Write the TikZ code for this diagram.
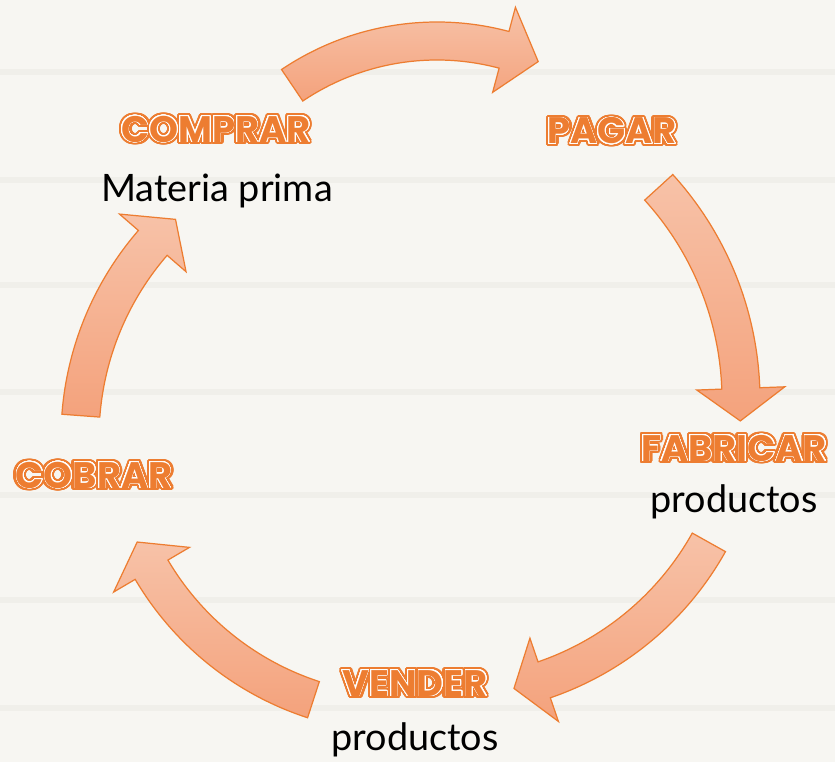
\documentclass[tikz,border=0pt]{standalone}
\usepackage{fontspec}
\setmainfont{Lato}
\newfontfamily\labelfont{Poppins}
\usepackage[copies]{contour}
\contournumber{32}
\definecolor{cycleorange}{HTML}{ED7D31}
\definecolor{arrowtop}{HTML}{F7C2A8}
\definecolor{arrowbottom}{HTML}{F4A27C}
\definecolor{paper}{HTML}{F7F6F2}
\definecolor{stripe}{HTML}{F0EFEA}
\tikzset{arrowbody/.style={draw=cycleorange, line width=0.7pt, line join=miter, top color=arrowtop, bottom color=arrowbottom}}
\tikzset{stepname/.style={font=\labelfont\bfseries\fontsize{21}{25}\selectfont, text=cycleorange, inner sep=0pt, anchor=base}}
\tikzset{stepnote/.style={font=\fontsize{21.5}{26}\selectfont, text=black, inner sep=0pt, anchor=base}}
\newcommand{\outlined}[1]{\rlap{\contourlength{1.7pt}\color{cycleorange}\contour{cycleorange}{#1}}{\contourlength{0.35pt}\color{cycleorange}\contour{white}{#1}}}
\newcommand{\cyclearrow}[5]{%
  \path[arrowbody, shift={(#1)}] (#3:{#2+19}) arc[start angle=#3, end angle=#4, radius={#2+19}]
    -- (#4:{#2+44}) -- (#5:#2) -- (#4:{#2-44}) -- (#4:{#2-19})
    arc[start angle=#4, end angle=#3, radius={#2-19}] -- cycle;}

\begin{document}
\begin{tikzpicture}[x=0.02cm, y=0.02cm]
  \fill[paper] (0,0) rectangle (835,762);
  \useasboundingbox (0,0) rectangle (835,762);
  \foreach \y in {690,582,477,370,267,162,54}
    \fill[stripe] (0,\y-3) rectangle (835,\y+3);

  \cyclearrow{437,462}{259}{124}{75}{67}
  \cyclearrow{425,362}{316}{42.3}{2.1}{-3.8}
  \cyclearrow{447,366}{300}{-29.2}{-71.1}{-77.1}
  \cyclearrow{404,341}{293}{252}{210.5}{204.4}
  \cyclearrow{378,324}{298}{175.7}{139.1}{132.8}

  \node[stepname] (comprar) at (216,620) {\outlined{COMPRAR}};
  \node[stepnote] (comprarnote) at (217,561) {Materia prima};
  \node[stepname] (pagar) at (612,618) {\outlined{PAGAR}};
  \node[stepname] (fabricar) at (734,301) {\outlined{FABRICAR}};
  \node[stepnote] (fabricarnote) at (734,250) {productos};
  \node[stepname] (vender) at (415,66) {\outlined{VENDER}};
  \node[stepnote] (vendernote) at (415,12) {productos};
  \node[stepname] (cobrar) at (94,274) {\outlined{COBRAR}};
\end{tikzpicture}
\end{document}
